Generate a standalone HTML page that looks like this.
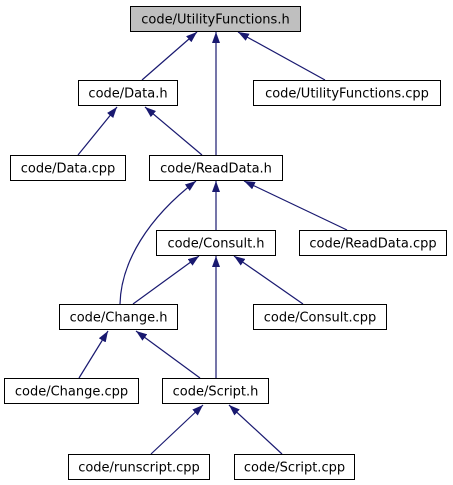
<!DOCTYPE html>
<html><head><meta charset="utf-8"><style>
html,body{margin:0;padding:0;background:#fff;width:453px;height:485px;overflow:hidden}
svg{display:block}
text{font-family:"DejaVu Sans","Liberation Sans",sans-serif;font-size:13px;fill:#000}
</style></head><body>
<svg width="453" height="485" viewBox="0 0 453 485" xmlns="http://www.w3.org/2000/svg">
<defs>
<marker id="a" viewBox="0 0 11 8" refX="11" refY="4" markerWidth="11" markerHeight="8" markerUnits="userSpaceOnUse" orient="auto">
<path d="M0,0 L11,4 L0,8 z" fill="#191970"/>
</marker>
</defs>
<g stroke="#191970" stroke-width="1.2" fill="none" marker-end="url(#a)">
<line x1="142" y1="80" x2="197" y2="32"/>
<line x1="216" y1="155" x2="216" y2="32"/>
<line x1="325" y1="80" x2="238" y2="32"/>
<line x1="78" y1="155" x2="117" y2="107"/>
<line x1="202" y1="155" x2="145" y2="107"/>
<path d="M120,304 C121,262 148,218 196,181"/>
<line x1="216" y1="230" x2="216" y2="181"/>
<line x1="347" y1="230" x2="244" y2="181"/>
<line x1="133" y1="304" x2="199" y2="256"/>
<line x1="303" y1="304" x2="234" y2="256"/>
<line x1="216" y1="378" x2="216" y2="256"/>
<line x1="79" y1="378" x2="108" y2="331"/>
<line x1="200" y1="378" x2="136" y2="331"/>
<line x1="151" y1="454" x2="203" y2="405"/>
<line x1="282" y1="454" x2="229" y2="405"/>
</g>
<g stroke="#000" stroke-width="1" fill="#fff">
<rect x="130.5" y="6.5" width="170" height="25" fill="#bfbfbf"/>
<rect x="78.5" y="80.5" width="99" height="25"/>
<rect x="253.5" y="80.5" width="187" height="25"/>
<rect x="10.5" y="155.5" width="115" height="25"/>
<rect x="149.5" y="155.5" width="133" height="25"/>
<rect x="156.5" y="230.5" width="119" height="25"/>
<rect x="299.5" y="230.5" width="147" height="25"/>
<rect x="59.5" y="304.5" width="118" height="25"/>
<rect x="253.5" y="304.5" width="133" height="25"/>
<rect x="4.5" y="378.5" width="134" height="25"/>
<rect x="162.5" y="378.5" width="106" height="25"/>
<rect x="68.5" y="454.5" width="141" height="25"/>
<rect x="234.5" y="454.5" width="120" height="25"/>
</g>
<g text-anchor="middle">
<text x="215.5" y="23.5">code/UtilityFunctions.h</text>
<text x="128" y="97.5">code/Data.h</text>
<text x="347" y="97.5">code/UtilityFunctions.cpp</text>
<text x="68" y="172.5">code/Data.cpp</text>
<text x="216" y="172.5">code/ReadData.h</text>
<text x="216" y="247.5">code/Consult.h</text>
<text x="373" y="247.5">code/ReadData.cpp</text>
<text x="118.5" y="321.5">code/Change.h</text>
<text x="320" y="321.5">code/Consult.cpp</text>
<text x="71.5" y="395.5">code/Change.cpp</text>
<text x="215.5" y="395.5">code/Script.h</text>
<text x="139" y="471.5">code/runscript.cpp</text>
<text x="294.5" y="471.5">code/Script.cpp</text>
</g>
</svg>
</body></html>
